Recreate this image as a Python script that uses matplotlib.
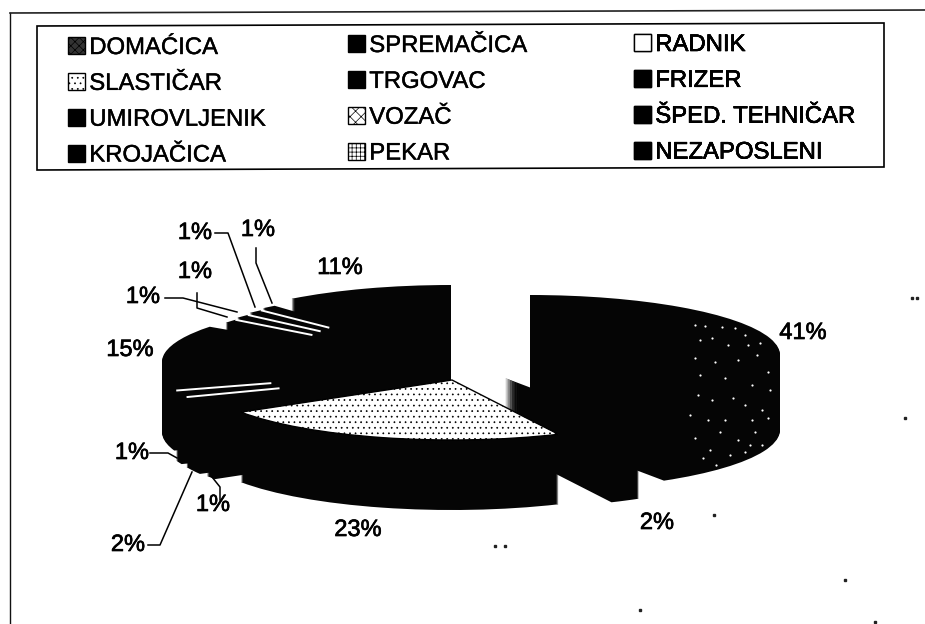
import matplotlib
matplotlib.use('Agg')
import numpy as np
import matplotlib.pyplot as plt
import matplotlib.patheffects as pe
from matplotlib.patches import Patch, Polygon

plt.rcParams['font.family'] = ['Liberation Sans', 'DejaVu Sans']
plt.rcParams['hatch.linewidth'] = 0.5

occupations = ['DOMAĆICA', 'SPREMAČICA', 'RADNIK', 'SLASTIČAR', 'TRGOVAC', 'FRIZER',
               'UMIROVLJENIK', 'VOZAČ', 'ŠPED. TEHNIČAR', 'KROJAČICA', 'PEKAR', 'NEZAPOSLENI']
shares = [41, 2, 23, 1, 2, 1, 15, 1, 1, 1, 1, 11]

# pixel centre of every pulled out slice, and the order they overlap in
centers = [(530, 355), (505, 378), (452, 380), (426, 377), (419, 375), (414, 372),
           (412, 362), (428, 358), (430, 356), (432, 354), (434, 352), (451, 345)]
draw_order = [11, 10, 9, 8, 7, 0, 6, 5, 4, 3, 1, 2]
depths = [75, 70, 70, 70, 70, 70, 70, 70, 70, 70, 70, 70]
A, B = 250, 60   # ellipse half axes in pixels

# percent labels: text, x, y
pct_labels = [('41%', 803, 333), ('2%', 657, 523), ('23%', 358, 530), ('2%', 128, 545),
              ('1%', 213, 505), ('1%', 132, 453), ('15%', 130, 350), ('1%', 143, 297),
              ('1%', 195, 272), ('1%', 195, 233), ('1%', 258, 230), ('11%', 340, 268)]
leaders = [[(165, 298), (183, 298), (237, 312)],
           [(197, 293), (197, 308), (227, 317)],
           [(215, 233), (228, 233), (255, 307)],
           [(256, 248), (256, 263), (272, 303)],
           [(150, 453), (168, 453), (177, 458)],
           [(148, 545), (160, 545), (192, 472)],
           [(212, 477), (220, 487), (220, 500)]]
specks = [(912, 298), (917, 298), (905, 418), (875, 622), (505, 546), (495, 546), (845, 580), (640, 610), (714, 515)]
# white flecks on the side of the big slice
flecks = [(695, 325), (705, 326), (722, 327), (735, 328), (745, 335), (700, 340), (712, 338), (728, 345),
          (748, 345), (760, 343), (695, 358), (715, 362), (738, 360), (757, 355), (768, 372), (700, 375),
          (725, 378), (752, 385), (770, 390), (698, 395), (712, 400), (733, 398), (745, 405), (762, 410),
          (690, 415), (708, 420), (725, 420), (752, 420), (768, 418), (695, 438), (720, 432), (738, 440),
          (755, 432), (762, 445), (710, 450), (730, 455), (750, 445), (703, 458), (716, 465), (745, 452)]

fig = plt.figure(figsize=(9.25, 6.24), dpi=100)
ax = fig.add_axes([0, 0, 1, 1])


def to_data(px, py):
    return (px - 450) / A, (365 - py) / B


for layer in range(max(depths), -1, -1):
    wedges, _ = ax.pie(shares, startangle=90, counterclock=False, colors=['#050505'] * 12)
    for i, w in enumerate(wedges):
        cx, cy = centers[i]
        w.set_center(to_data(cx, cy + layer))
        w.set_zorder(10 * draw_order.index(i) + 1 - layer / 200)
        if layer > depths[i]:
            w.set_visible(False)
        if layer == 0 and i == 2:
            w.set_facecolor('white')
            w.set_edgecolor('black')
            w.set_hatch('...')
        # thin light gaps between the small slices
        if layer == 0 and i in (4, 5, 7, 8, 9):
            ang = np.deg2rad(w.theta1)
            cxd, cyd = w.center
            ax.plot([cxd + 0.6 * np.cos(ang), cxd + np.cos(ang)],
                    [cyd + 0.6 * np.sin(ang), cyd + np.sin(ang)],
                    color='white', lw=1.4, zorder=200, solid_capstyle='butt')

ax.set_aspect('auto')
ax.set_xlim(to_data(0, 0)[0], to_data(925, 0)[0])
ax.set_ylim(to_data(0, 624)[1], to_data(0, 0)[1])
ax.axis('off')

# overlay in image pixels for frame, legend and labels
top = fig.add_axes([0, 0, 1, 1], facecolor='none')
top.set_xlim(0, 925)
top.set_ylim(624, 0)
top.axis('off')

# the scan is a little bit rotated, so the frames are not quite level
top.plot([10, 10], [13, 624], color='#111111', lw=1)
top.plot([10, 925], [13, 10], color='#222222', lw=1.2)
top.add_patch(Polygon([(37, 26), (884, 23), (884, 167), (37, 170)], closed=True,
                      facecolor='white', edgecolor='black', lw=1.2))

heavy = [pe.withStroke(linewidth=0.5, foreground='black')]
for name, x, y in pct_labels:
    top.text(x, y, name, fontsize=17, ha='center', va='center', color='black', path_effects=heavy)
for pts in leaders:
    top.plot([p[0] for p in pts], [p[1] for p in pts], color='black', lw=1.1)
for x, y in specks:
    top.plot(x, y, marker='s', ms=1.5, color='#222222')
top.scatter([p[0] for p in flecks], [p[1] for p in flecks], s=2.5, color='white', linewidths=0)

swatch_hatch = ['xxxx', None, None, '...', None, None, None, 'xxx', None, None, '++++', None]
swatch_face = ['#333333', 'black', 'white', 'white', 'black', 'black', 'black', 'white', 'black', 'black', 'white', 'black']
handles = [Patch(facecolor=swatch_face[i], edgecolor='black', hatch=swatch_hatch[i], lw=1) for i in range(12)]
# one legend per column, the columns are not evenly spaced in the reference
column_x = [68, 348, 634]
column_y = [37, 35, 34]
for c in range(3):
    idx = list(range(c, 12, 3))
    leg = top.legend([handles[i] for i in idx], [occupations[i] for i in idx],
                     loc='upper left', bbox_to_anchor=(column_x[c] / 925, 1 - column_y[c] / 624),
                     borderaxespad=0, fontsize=17.2, frameon=False,
                     handlelength=0.72, handleheight=0.72, handletextpad=0.17,
                     labelspacing=0.58, borderpad=0)
    for t in leg.get_texts():
        t.set_path_effects([pe.withStroke(linewidth=0.3, foreground='black')])
    top.add_artist(leg)

fig.savefig('out.png', dpi=100)
